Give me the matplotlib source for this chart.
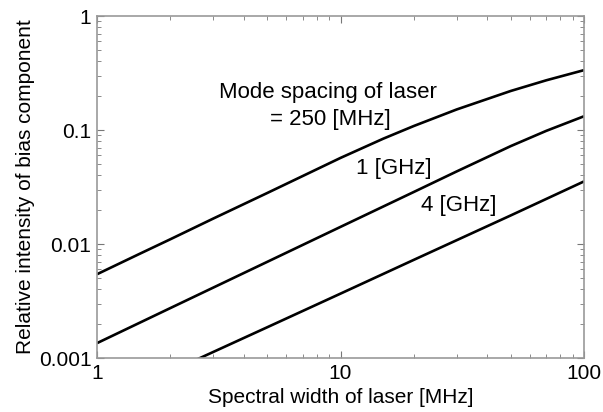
import matplotlib
matplotlib.use("Agg")
import matplotlib.pyplot as plt

plt.rcParams['font.family'] = ['Liberation Sans', 'DejaVu Sans']

# Data (spectral width [MHz] -> relative intensity)
x_250mhz = [1, 1.5, 2, 3, 5, 7, 10, 15, 20, 30, 50, 70, 100]
y_250mhz = [0.00543, 0.00822, 0.0110, 0.0167, 0.0280, 0.0395, 0.0569,
            0.0840, 0.1084, 0.1514, 0.2199, 0.2729, 0.335]

x_1ghz = [1, 2, 5, 10, 20, 30, 50, 70, 100]
y_1ghz = [0.00135, 0.00274, 0.00697, 0.01413, 0.0286, 0.0433, 0.0722,
          0.0983, 0.1320]

x_4ghz = [2, 2.65, 5, 10, 20, 50, 100]
y_4ghz = [0.000759, 0.001, 0.00186, 0.00367, 0.00726, 0.0178, 0.0354]

xticks = [1, 10, 100]
xticklabels = ["1", "10", "100"]
yticks = [0.001, 0.01, 0.1, 1]
yticklabels = ["0.001", "0.01", "0.1", "1"]

fig = plt.figure(figsize=(6.03, 4.12), dpi=100)
ax = fig.add_axes([97/603, 1-358/412, (584-97)/603, (358-16)/412])

for xs, ys in [(x_250mhz, y_250mhz), (x_1ghz, y_1ghz), (x_4ghz, y_4ghz)]:
    ax.plot(xs, ys, color='black', lw=1.9, solid_capstyle='butt',
            solid_joinstyle='round')

ax.set_xscale('log')
ax.set_yscale('log')
ax.set_xlim(1, 100)
ax.set_ylim(0.001, 1)
ax.set_xticks(xticks)
ax.set_xticklabels(xticklabels)
ax.set_yticks(yticks)
ax.set_yticklabels(yticklabels)

for s in ax.spines.values():
    s.set_color('#999999')
    s.set_linewidth(1.2)

ax.tick_params(which='both', direction='in', top=True, right=True, color='#777777',
               labelsize=15, labelcolor='black')
ax.tick_params(which='major', length=5, width=0.8, pad=4)
ax.tick_params(which='minor', length=3, width=0.6)

ax.set_xlabel("Spectral width of laser [MHz]", fontsize=15, labelpad=4)
ax.set_ylabel("Relative intensity of bias component", fontsize=15, labelpad=3)

ax.text(8.85, 0.212, "Mode spacing of laser", fontsize=16,
        ha='center', va='center')
ax.text(9.05, 0.1233, "= 250 [MHz]", fontsize=16, ha='center', va='center')
ax.text(16.5, 0.0459, "1 [GHz]", fontsize=16, ha='center', va='center')
ax.text(30.5, 0.0218, "4 [GHz]", fontsize=16, ha='center', va='center')

fig.savefig("out.png", dpi=100)
